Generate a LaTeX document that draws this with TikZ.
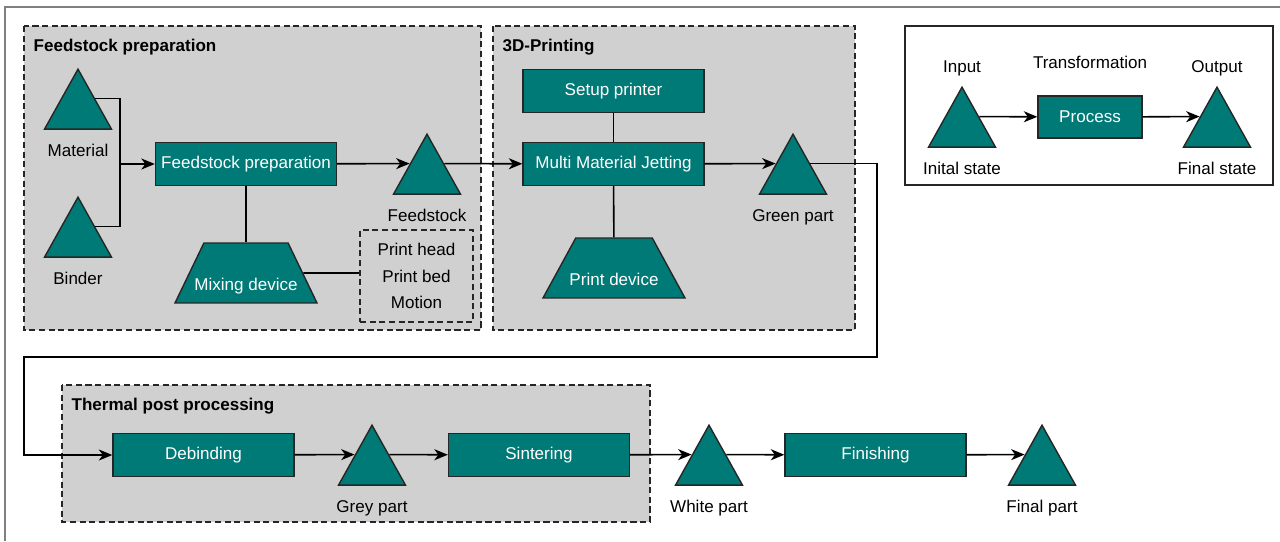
\documentclass[tikz,border=0pt]{standalone}
\usepackage{fontspec}
\setmainfont{Liberation Sans}
\usetikzlibrary{shapes.geometric,arrows.meta}
\definecolor{tealbox}{RGB}{0,122,118}
\definecolor{groupgray}{RGB}{208,208,208}

\begin{document}
\begin{tikzpicture}[x=0.02cm,y=-0.02cm,line width=0.9pt,
  font=\fontsize{9.7}{11.6}\selectfont,label distance=0.16cm,
  proc/.style={draw=black!85,line width=0.8pt,fill=tealbox,text=white,minimum width=3.62cm,minimum height=0.86cm,inner sep=0pt},
  part/.style={isosceles triangle,isosceles triangle stretches,shape border rotate=90,draw=black!85,line width=0.8pt,fill=tealbox,minimum width=1.34cm,minimum height=1.2cm,inner sep=0pt},
  tool/.style={trapezium,trapezium stretches body=true,draw=black!85,line width=0.8pt,fill=tealbox,text=white,minimum width=2.84cm,minimum height=1.2cm,text height=0.8cm,text depth=0.1cm},
  group/.style={draw=black!85,fill=groupgray,dash pattern=on 3.5pt off 2pt,line width=0.9pt},
  title/.style={anchor=west,font=\fontsize{9.7}{11.6}\selectfont\bfseries},
  flow/.style={-{Stealth[length=0.27cm,width=0.22cm,inset=0.08cm]}}]
\useasboundingbox (0,0) rectangle (1280,541);
\draw[black!50,line width=1.2pt] (5,541) -- (5,7) -- (1280,7);
\draw[group] (24,26) rectangle (481,330);
\draw[group] (493,26) rectangle (855,330);
\draw[group] (62,385) rectangle (650,522);
\draw[black!85,line width=1pt] (905,26) rectangle (1273,185);
\node[title] (t1) at (27,47) {Feedstock preparation};
\node[title] (t2) at (496,47) {3D-Printing};
\node[title] (t3) at (65,406) {Thermal post processing};

\node[part,label=below:Material] (mat) at (78,109.5) {};
\node[part,label=below:Binder] (bind) at (78,237.5) {};
\node[proc] (fp) at (246,164) {Feedstock preparation};
\node[tool,trapezium left angle=63,trapezium right angle=63] (mix) at (246,273) {\makebox[0pt]{Mixing device}};
\node[draw=black!85,dash pattern=on 3.5pt off 2pt,minimum width=2.26cm,minimum height=1.84cm,align=center,inner sep=0pt,
  font=\fontsize{9.7}{15}\selectfont] (opts) at (416.5,276) {Print head\\Print bed\\Motion};
\node[part,label=below:Feedstock] (feed) at (427,174.5) {};
\node[proc] (setup) at (613.5,91) {Setup printer};
\node[proc] (mmj) at (613.5,164) {Multi Material Jetting};
\node[tool,trapezium left angle=60,trapezium right angle=60] (prt) at (614,268) {\makebox[0pt]{Print device}};
\node[part,label=below:Green part] (green) at (793,174.5) {};
\node[proc] (deb) at (203.5,455) {Debinding};
\node[part,label=below:Grey part] (grey) at (372,465.5) {};
\node[proc] (sint) at (539,455) {Sintering};
\node[part,label=below:White part] (white) at (709,465.5) {};
\node[proc] (fin) at (875.5,455) {Finishing};
\node[part,label=below:Final part] (final) at (1042,465.5) {};

\node[part,label={[label distance=0.06cm]above:Input},label=below:Inital state] (inp) at (962,127.5) {};
\node[proc,minimum width=2.08cm,minimum height=0.84cm,label={[label distance=0.4cm]above:Transformation}] (pr) at (1090,117) {Process};
\node[part,label={[label distance=0.06cm]above:Output},label=below:Final state] (outp) at (1217,127.5) {};

\coordinate (jn) at (120,164);
\coordinate (r1) at (877,357);
\coordinate (l1) at (24,357);
\draw (mat.right side) -| (jn) |- (bind.right side);
\draw[flow] (jn) -- (fp);
\draw[flow] (fp) -- (feed.left side);
\draw (fp) -- (mix);
\draw (mix) -- (mix -| opts.west);
\draw[flow] (feed.right side) -- (mmj);
\draw (setup) -- (mmj);
\draw (mmj) -- (prt);
\draw[flow] (mmj) -- (green.left side);
\draw[flow] (green.right side) -| (r1) -- (l1) |- (deb);
\draw[flow] (deb) -- (grey.left side);
\draw[flow] (grey.right side) -- (sint);
\draw[flow] (sint) -- (white.left side);
\draw[flow] (white.right side) -- (fin);
\draw[flow] (fin) -- (final.left side);
\draw[flow] (inp.right side) -- (pr);
\draw[flow] (pr) -- (outp.left side);
\end{tikzpicture}
\end{document}
